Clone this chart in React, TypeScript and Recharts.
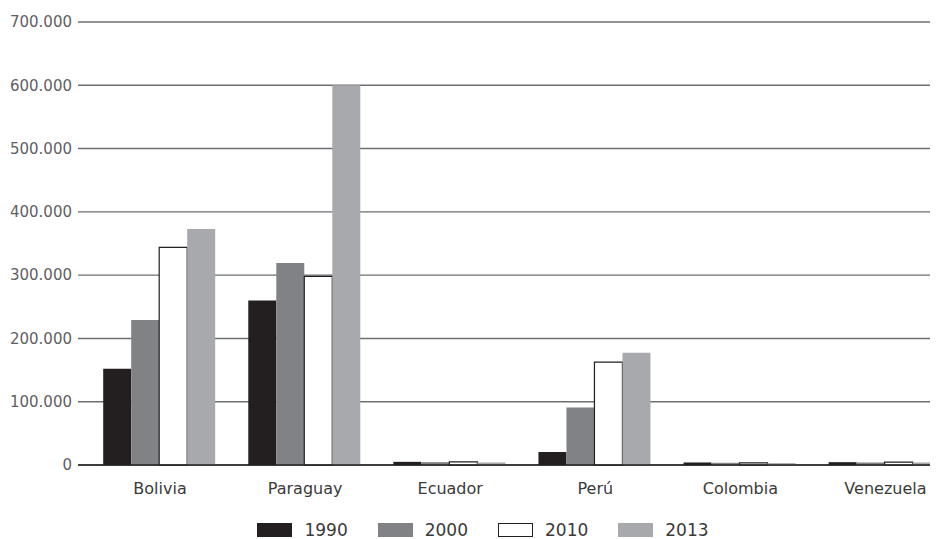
import React from "react";
import { BarChart, Bar, XAxis, YAxis, CartesianGrid, Legend } from "recharts";

const categories = ["Bolivia", "Paraguay", "Ecuador", "Perú", "Colombia", "Venezuela"];
const s1990 = [152000, 260000, 5000, 20500, 4000, 4500];
const s2000 = [229000, 319000, 4500, 91000, 3500, 4000];
const s2010 = [344000, 298000, 5000, 162500, 3500, 4500];
const s2013 = [373000, 600000, 4000, 177500, 3000, 4000];
const yTicks = [0, 100000, 200000, 300000, 400000, 500000, 600000, 700000];

const seriesKeys = ["1990", "2000", "2010", "2013"];
const fills = ["#231f20", "#808285", "#ffffff", "#a7a9ac"];
const strokes = ["none", "none", "#231f20", "none"];

const data = categories.map((c, i) => ({
  name: c,
  "1990": s1990[i],
  "2000": s2000[i],
  "2010": s2010[i],
  "2013": s2013[i],
}));

const fmt = (v: number) => {
  if (v === 0) return "0";
  const s = String(v);
  return s.replace(/\B(?=(\d{3})+(?!\d))/g, ".");
};

const FONT = "'DejaVu Sans', sans-serif";

const LegendContent = () => (
  <div
    style={{
      display: "flex",
      justifyContent: "center",
      alignItems: "center",
      height: 30,
      paddingTop: 12,
      boxSizing: "border-box",
      fontFamily: FONT,
      fontSize: 17,
      color: "#3a3a3a",
    }}
  >
    {seriesKeys.map((k, i) => (
      <div key={k} style={{ display: "flex", alignItems: "center", marginRight: i < 3 ? 30 : 0 }}>
        <div
          style={{
            width: i === 2 ? 33 : 35,
            height: i === 2 ? 12 : 14,
            background: fills[i],
            border: i === 2 ? "1px solid #231f20" : "none",
            marginRight: 12,
          }}
        />
        <span>{k}</span>
      </div>
    ))}
  </div>
);

export default function App() {
  return (
    <div style={{ width: 922, height: 531, overflow: "hidden" }}>
      <BarChart
        width={950}
        height={531}
        data={data}
        margin={{ top: 14, right: 0, bottom: 0, left: 0 }}
        barCategoryGap={15.7}
        barGap={0}
      >
        <CartesianGrid vertical={false} stroke="#6d6e71" strokeWidth={1.4} />
        <XAxis
          dataKey="name"
          height={44}
          padding={{ left: 9.5, right: 0 }}
          tickLine={false}
          tickMargin={12}
          axisLine={{ stroke: "#231f20", strokeWidth: 1.5 }}
          tick={{ fill: "#3a3a3a", fontSize: 16, fontFamily: FONT }}
          interval={0}
        />
        <YAxis
          width={70}
          domain={[0, 700000]}
          ticks={yTicks}
          tickFormatter={fmt}
          axisLine={false}
          tickLine={false}
          tickSize={6}
          tickMargin={0}
          tick={{ fill: "#5f6062", fontSize: 15, fontFamily: FONT }}
        />
        <Legend verticalAlign="bottom" height={30} content={<LegendContent />} />
        {seriesKeys.map((k, i) => (
          <Bar
            key={k}
            dataKey={k}
            fill={fills[i]}
            stroke={strokes[i]}
            strokeWidth={i === 2 ? 1.2 : 0}
            isAnimationActive={false}
          />
        ))}
      </BarChart>
    </div>
  );
}
